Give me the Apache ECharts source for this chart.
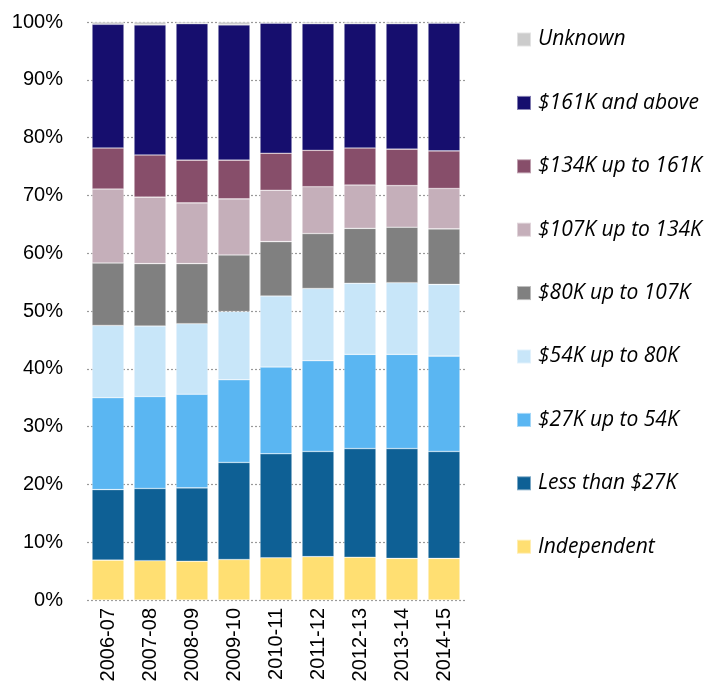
<!DOCTYPE html>
<html>
<head>
<meta charset="utf-8">
<script src="https://cdn.jsdelivr.net/npm/echarts@6/dist/echarts.min.js"></script>
<style>
    html, body { margin: 0; padding: 0; background: #fff; }
    #chart { width: 709px; height: 686px; }
</style>
</head>
<body>
<div id="chart"></div>
<script>
    let categories = ['2006-07', '2007-08', '2008-09', '2009-10', '2010-11', '2011-12', '2012-13', '2013-14', '2014-15'];

    // shares in % (bottom to top of each bar)
    let independent = [6.9, 6.8, 6.7, 7.0, 7.3, 7.5, 7.4, 7.2, 7.2];
    let lessThan27 = [12.2, 12.5, 12.7, 16.8, 18.0, 18.2, 18.8, 19.0, 18.5];
    let from27to54 = [15.9, 15.9, 16.2, 14.3, 15.0, 15.7, 16.3, 16.3, 16.5];
    let from54to80 = [12.5, 12.2, 12.2, 11.8, 12.3, 12.5, 12.3, 12.4, 12.4];
    let from80to107 = [10.8, 10.8, 10.4, 9.8, 9.4, 9.5, 9.5, 9.6, 9.6];
    let from107to134 = [12.8, 11.5, 10.5, 9.7, 8.9, 8.1, 7.5, 7.2, 7.0];
    let from134to161 = [7.1, 7.3, 7.4, 6.7, 6.4, 6.3, 6.4, 6.3, 6.5];
    let above161 = [21.4, 22.5, 23.6, 23.4, 22.5, 21.9, 21.5, 21.7, 22.1];
    let unknown = [0.4, 0.5, 0.3, 0.5, 0.2, 0.3, 0.3, 0.3, 0.2];

    let yTicks = [0, 10, 20, 30, 40, 50, 60, 70, 80, 90, 100];

    let seriesDefs = [
        { name: 'Independent', data: independent, color: '#FFDF72' },
        { name: 'Less than $27K', data: lessThan27, color: '#0E6095' },
        { name: '$27K up to 54K', data: from27to54, color: '#5AB6F2' },
        { name: '$54K up to 80K', data: from54to80, color: '#C8E6F9' },
        { name: '$80K up to 107K', data: from80to107, color: '#808080' },
        { name: '$107K up to 134K', data: from107to134, color: '#C5AFBA' },
        { name: '$134K up to 161K', data: from134to161, color: '#874E6A' },
        { name: '$161K and above', data: above161, color: '#160E6E' },
        { name: 'Unknown', data: unknown, color: '#CCCCCC' }
    ];

    let series = seriesDefs.map(function(s){
        return {
            name: s.name,
            type: 'bar',
            stack: 'total',
            barCategoryGap: '24%',
            data: s.data,
            itemStyle: {
                color: s.color,
                borderColor: 'rgba(255,255,255,0.45)',
                borderWidth: 0.6
            }
        };
    });

    let chart = echarts.init(document.getElementById('chart'));
    chart.setOption({
        animation: false,
        grid: {
            left: 87,
            right: 244,
            top: 22,
            bottom: 86
        },
        legend: {
            orient: 'vertical',
            left: 516,
            top: 29,
            padding: 0,
            itemWidth: 14,
            itemHeight: 14,
            itemGap: 42.4,
            icon: 'rect',
            data: seriesDefs.map(function(s){ return s.name; }).reverse(),
            textStyle: {
                fontFamily: 'Open Sans',
                fontStyle: 'italic',
                fontSize: 21,
                lineHeight: 20,
                color: '#000',
                padding: [0, 0, 0, 2]
            }
        },
        xAxis: {
            type: 'category',
            data: categories,
            axisLine: { show: false },
            axisTick: { show: false },
            axisLabel: {
                rotate: 90,
                margin: 8,
                fontFamily: 'Liberation Sans',
                fontSize: 20,
                color: '#000'
            }
        },
        yAxis: {
            type: 'value',
            min: yTicks[0],
            max: yTicks[yTicks.length - 1],
            interval: 10,
            axisLine: { show: false },
            axisTick: { show: false },
            axisLabel: {
                margin: 24,
                fontFamily: 'Liberation Sans',
                fontSize: 20,
                color: '#000',
                formatter: '{value}%'
            },
            splitLine: {
                lineStyle: {
                    color: '#999',
                    type: [2, 2],
                    width: 1.2
                }
            }
        },
        series: series
    });
</script>
</body>
</html>
